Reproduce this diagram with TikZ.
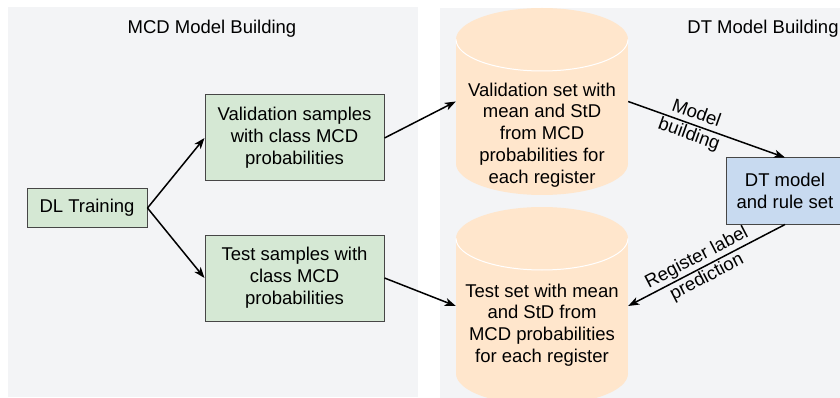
\documentclass[tikz,border=0pt]{standalone}
\usepackage{fontspec}
\setmainfont{Liberation Sans}
\usetikzlibrary{arrows.meta}
\definecolor{panelgray}{RGB}{243,244,246}
\definecolor{greenfill}{RGB}{213,232,212}
\definecolor{orangefill}{RGB}{255,230,204}
\definecolor{bluefill}{RGB}{200,218,240}
\definecolor{boxline}{RGB}{70,70,70}
\begin{document}
\begin{tikzpicture}[x=1pt,y=-1pt,
  font=\fontsize{18.5pt}{21.8pt}\selectfont,
  conn/.style={line width=1.5pt, -{Stealth[length=11pt,width=8pt,inset=3pt]}},
  gbox/.style={draw=boxline, line width=1pt, fill=greenfill, align=center, inner sep=0pt},
  bbox/.style={draw=boxline, line width=1pt, fill=bluefill, align=center, inner sep=0pt},
  cylbody/.style={inner sep=0pt, minimum width=172pt},
  txt/.style={align=center, inner sep=0pt},
  panel/.style={fill=panelgray},
  cylfill/.style={fill=orangefill},
  cylrim/.style={draw=white, line width=1pt}
]
\useasboundingbox (0,0) rectangle (840,398);
\clip (0,0) rectangle (840,398);
\fill[white] (0,0) rectangle (840,398);

% panels
\path[panel] (8,7) rectangle (418,397);
\path[panel] (440,8) rectangle (850,410);
\node[txt] (t1) at (212,29) {MCD Model Building};
\node[txt] (t2) at (763,29) {DT Model Building};

% cylinders (validation: top 8, bottom 195; test: top 207, bottom 405)
\foreach \top/\bot in {8/195, 207/405}{
  \pgfmathsetmacro{\ya}{\top+31.5}
  \pgfmathsetmacro{\yb}{\bot-31.5}
  \path[cylfill] (456,\ya) rectangle (628,\yb);
  \path[cylfill] (542,\yb) ellipse [x radius=86pt, y radius=31.5pt];
  \path[cylfill] (542,\ya) ellipse [x radius=86pt, y radius=31.5pt];
  \draw[cylrim] (456,\ya) arc [start angle=180, end angle=360, x radius=86pt, y radius=31.5pt];
}
\node[cylbody, minimum height=187pt] (vc) at (542,101.5) {};
\node[cylbody, minimum height=198pt] (tc) at (542,306) {};
\node[txt] (vct) at (542,135) {Validation set with\\mean and StD\\from MCD\\probabilities for\\each register};
\node[txt] (tct) at (542,325) {Test set with mean\\and StD from\\MCD probabilities\\for each register};

% boxes
\node[gbox, minimum width=120pt, minimum height=38pt] (dl) at (87,208) {DL Training};
\node[gbox, minimum width=179pt, minimum height=86pt] (vs) at (294.5,138) {Validation samples\\with class MCD\\probabilities};
\node[gbox, minimum width=179pt, minimum height=86pt] (ts) at (294.5,278) {Test samples with\\class MCD\\probabilities};
\node[bbox, minimum width=118pt, minimum height=66pt] (dt) at (785,191) {DT model\\and rule set};

% connectors
\draw[conn] (dl.east) -- (vs.west);
\draw[conn] (dl.east) -- (ts.west);
\draw[conn] (vs.east) -- (vc.west);
\draw[conn] (ts.east) -- (tc.west);
\draw[conn] (vc.east) -- node[txt, sloped, pos=0.41] {Model\\building} (dt.north);
\draw[conn] (dt.south) -- node[txt, sloped, pos=0.53] {Register label\\prediction} (tc.east);
\end{tikzpicture}
\end{document}
